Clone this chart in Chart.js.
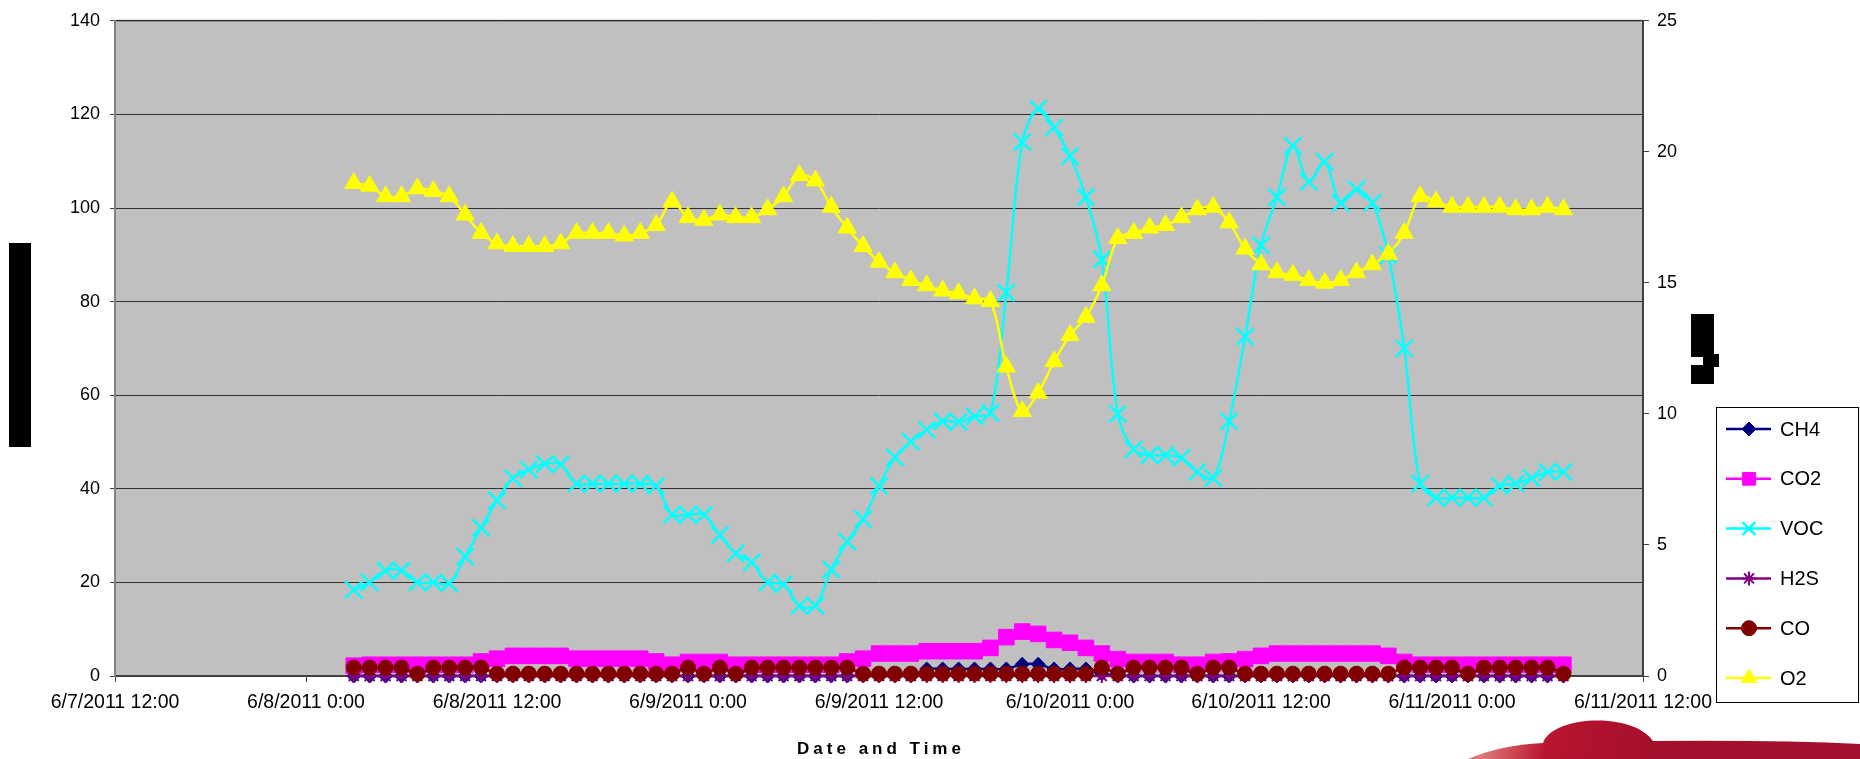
<!DOCTYPE html>
<html>
<head>
<meta charset="utf-8">
<title>Gas readings</title>
<script src="https://cdn.jsdelivr.net/npm/chart.js@4.4.1/dist/chart.umd.min.js"></script>
<style>
  html, body { margin: 0; padding: 0; background: #fff; }
  #wrap { width: 1860px; height: 759px; position: relative; }
</style>
</head>
<body>
<div id="wrap"><canvas id="gasChart" width="1860" height="759"></canvas></div>
<script>
// hours after 6/7/2011 12:00 for each reading
const sampleHours = [15,16,17,18,19,20,21,22,23,24,25,26,27,28,29,30,31,32,33,34,
  35,36,37,38,39,40,41,42,43,44,45,46,47,48,49,50,51,52,53,54,
  55,56,57,58,59,60,61,62,63,64,65,66,67,68,69,70,71,72,73,74,
  75,76,77,78,79,80,81,82,83,84,85,86,87,88,89,90,91];

const ch4 = [0,0,0,0,0,0,0,0,0,0, 0,0,0,0,0,0,0,0,0,0, 0,0,0,0,0,0,0,0,0,0,
  0,0,0,0,0,0,1.5,1.5,1.5,1.5, 1.5,1.5,2.5,2.5,1.5,1.5,1.5,0.5,0,0,
  0,0,0,0,0,0,0,0,0,0, 0,0,0,0,0,0,0,0,0,0, 0,0,0,0,0,0,0];

const co2 = [2.2,2.4,2.4,2.4,2.4,2.4,2.4,2.4,3.1,3.7, 4.3,4.3,4.3,4.3,3.7,3.7,3.7,3.7,3.7,3.1,
  2.4,3.0,3.0,3.0,2.4,2.4,2.4,2.4,2.4,2.4, 2.4,3.1,3.7,4.8,4.8,4.8,5.3,5.3,5.3,5.3,
  6.0,8.3,9.5,9.0,7.7,7.1,6.0,4.8,3.6,3.0, 3.0,3.0,2.4,2.4,3.0,3.1,3.6,4.3,4.8,4.8,
  4.8,4.8,4.8,4.8,4.8,4.3,3.0,2.4,2.4,2.4, 2.4,2.4,2.4,2.4,2.4,2.4,2.4];

const voc = [18.4,20.0,22.5,22.5,20.0,20.0,19.8,25.5,31.7,37.5, 42.3,44.1,45.3,45.2,41.1,41.1,41.1,41.1,41.1,40.6,
  34.5,34.5,34.5,30.1,26.2,24.3,20.0,19.6,15.0,15.0, 22.8,28.7,33.5,40.6,46.7,50.1,52.6,54.4,54.3,55.5,
  56.2,81.9,114.1,121.2,117.2,111.1,102.3,89.0,56.0,48.4, 47.2,47.2,46.6,43.6,42.3,54.4,72.5,92.0,102.3,113.3,
  105.6,109.9,101.1,104.0,101.1,89.9,70.0,41.1,38.1,38.1, 38.1,38.1,40.6,41.1,42.3,43.6,43.6];

const h2s = [0,0,0,0,0,0,0,0,0,0, 0,0,0,0,0,0,0,0,0,0, 0,0,0,0,0,0,0,0,0,0,
  0,0,0,0,0,0,0,0,0,0, 0,0,0,0,0,0,0,0,0,0, 0,0,0,0,0,0,0,0,0,0,
  0,0,0,0,0,0,0,0,0,0, 0,0,0,0,0,0,0];

const co = [1.8,1.8,1.8,1.8,0.5,1.8,1.8,1.8,1.8,0.5, 0.5,0.5,0.5,0.5,0.5,0.5,0.5,0.5,0.5,0.5,
  0.5,1.8,0.5,1.8,0.5,1.8,1.8,1.8,1.8,1.8, 1.8,1.8,0.5,0.5,0.5,0.5,0.5,0.5,0.5,0.5,
  0.5,0.5,0.5,0.5,0.5,0.5,0.5,1.8,0.5,1.8, 1.8,1.8,1.8,0.5,1.8,1.8,0.5,0.5,0.5,0.5,
  0.5,0.5,0.5,0.5,0.5,0.5,1.8,1.8,1.8,1.8, 0.5,1.8,1.8,1.8,1.8,1.8,0.5];

// O2 in percent, read against the right-hand axis
const o2 = [18.8,18.7,18.3,18.3,18.6,18.5,18.3,17.6,16.9,16.5, 16.4,16.4,16.4,16.5,16.9,16.9,16.9,16.8,16.9,17.2,
  18.1,17.5,17.4,17.6,17.5,17.5,17.8,18.3,19.1,18.9, 17.9,17.1,16.4,15.8,15.4,15.1,14.9,14.7,14.6,14.4,
  14.3,11.8,10.1,10.8,12.0,13.0,13.7,14.9,16.7,16.9, 17.1,17.2,17.5,17.8,17.9,17.3,16.3,15.7,15.4,15.3,
  15.1,15.0,15.1,15.4,15.7,16.1,16.9,18.3,18.1,17.9, 17.9,17.9,17.9,17.8,17.8,17.9,17.8];

const seriesNames = ["CH4", "CO2", "VOC", "H2S", "CO", "O2"];
const xTitle = "Date and Time";

const FONT = '"Liberation Sans", Arial, sans-serif';

function pairs(values) {
  return sampleHours.map((h, i) => ({ x: h, y: values[i] }));
}

function tickDate(h) {
  const day = 7 + Math.floor((12 + h) / 24);
  const hour = (12 + h) % 24;
  return "6/" + day + "/2011 " + hour + ":00";
}

function series(label, values, color, style, radius, extra) {
  return Object.assign({
    label,
    data: pairs(values),
    yAxisID: "y",
    borderColor: color,
    backgroundColor: color,
    borderWidth: 2.5,
    pointStyle: style,
    pointRadius: radius,
    pointBorderWidth: 1,
    pointBackgroundColor: color,
    pointBorderColor: color,
    tension: 0.33,
    clip: false
  }, extra || {});
}

const datasets = [
  series(seriesNames[0], ch4, "#000080", "rectRot", 7, { order: 6 }),
  series(seriesNames[1], co2, "#ff00ff", "rect", 11, { order: 5 }),
  series(seriesNames[2], voc, "#00ffff", "crossRot", 12, { order: 4, pointBorderWidth: 2.5 }),
  series(seriesNames[3], h2s, "#800080", "star", 7, { order: 3, pointBorderWidth: 2 }),
  series(seriesNames[4], co, "#800000", "circle", 7.5, { order: 2 }),
  series(seriesNames[5], o2, "#ffff00", "triangle", 10.5, { order: 1, yAxisID: "y1" })
];

// grey plot area plus its frame
const plotBackdrop = {
  id: "plotBackdrop",
  beforeDraw(chart) {
    const { ctx, chartArea: a } = chart;
    ctx.save();
    ctx.fillStyle = "#c0c0c0";
    ctx.fillRect(a.left, a.top, a.right - a.left, a.bottom - a.top);
    ctx.strokeStyle = "#808080";
    ctx.lineWidth = 2;
    ctx.strokeRect(a.left, a.top, a.right - a.left, a.bottom - a.top);
    ctx.restore();
  }
};

function markerFallback(ctx, style, r, x, y) {
  ctx.beginPath();
  if (style === "circle") ctx.arc(x, y, r, 0, Math.PI * 2);
  else if (style === "rect") ctx.rect(x - r * 0.707, y - r * 0.707, r * 1.414, r * 1.414);
  else if (style === "rectRot") { ctx.moveTo(x - r, y); ctx.lineTo(x, y - r); ctx.lineTo(x + r, y); ctx.lineTo(x, y + r); ctx.closePath(); }
  else if (style === "triangle") { ctx.moveTo(x, y - r); ctx.lineTo(x + r * 0.866, y + r / 2); ctx.lineTo(x - r * 0.866, y + r / 2); ctx.closePath(); }
  else { const d = r * 0.707; ctx.moveTo(x - d, y - d); ctx.lineTo(x + d, y + d); ctx.moveTo(x + d, y - d); ctx.lineTo(x - d, y + d); }
  if (style !== "crossRot" && style !== "star") ctx.fill();
  ctx.stroke();
}

// Excel-style legend: line sample with marker, boxed at the right
const boxLegend = {
  id: "boxLegend",
  afterDraw(chart) {
    const ctx = chart.ctx;
    const left = 1716, top = 407, right = 1858, bottom = 702;
    ctx.save();
    ctx.fillStyle = "#ffffff";
    ctx.fillRect(left, top, right - left, bottom - top);
    ctx.strokeStyle = "#000";
    ctx.lineWidth = 1;
    ctx.strokeRect(left + 0.5, top + 0.5, right - left, bottom - top);
    chart.data.datasets.forEach((ds, i) => {
      const y = 429 + i * 49.8;
      ctx.strokeStyle = ds.borderColor;
      ctx.lineWidth = 2.5;
      ctx.beginPath();
      ctx.moveTo(1726, y);
      ctx.lineTo(1771, y);
      ctx.stroke();
      ctx.fillStyle = ds.pointBackgroundColor;
      ctx.strokeStyle = ds.pointBorderColor;
      ctx.lineWidth = ds.pointBorderWidth;
      const opts = { pointStyle: ds.pointStyle, radius: Math.min(ds.pointRadius, 9), borderWidth: ds.pointBorderWidth, rotation: 0 };
      if (Chart.helpers && Chart.helpers.drawPoint) {
        Chart.helpers.drawPoint(ctx, opts, 1749, y);
      } else {
        markerFallback(ctx, ds.pointStyle, opts.radius, 1749, y);
      }
      ctx.fillStyle = "#000";
      ctx.font = "20px " + FONT;
      ctx.textAlign = "left";
      ctx.textBaseline = "middle";
      ctx.fillText(ds.label, 1780, y + 1);
    });
    ctx.restore();
  }
};

// spaced bold axis title, redacted axis titles and the logo corner
const decorations = {
  id: "decorations",
  afterDraw(chart) {
    const { ctx, chartArea: a } = chart;
    ctx.save();
    ctx.fillStyle = "#000";
    ctx.font = "bold 17px " + FONT;
    if ("letterSpacing" in ctx) ctx.letterSpacing = "4px";
    ctx.textAlign = "center";
    ctx.textBaseline = "middle";
    ctx.fillText(xTitle, (a.left + a.right) / 2 + 2, 749);
    if ("letterSpacing" in ctx) ctx.letterSpacing = "0px";

    ctx.fillRect(9, 243, 22, 204);
    ctx.fillRect(1691, 314, 23, 70);
    ctx.fillRect(1714, 354, 5, 13);
    ctx.fillStyle = "#fff";
    ctx.fillRect(1691, 357, 12, 8);

    const g = ctx.createLinearGradient(1490, 720, 1660, 759);
    g.addColorStop(0, "#e07a7a");
    g.addColorStop(0.35, "#b8142f");
    g.addColorStop(1, "#a30f2c");
    ctx.fillStyle = g;
    ctx.beginPath();
    ctx.moveTo(1468, 759);
    ctx.quadraticCurveTo(1500, 745, 1543, 743);
    ctx.bezierCurveTo(1553, 715, 1633, 712, 1653, 741);
    ctx.quadraticCurveTo(1780, 740, 1860, 744);
    ctx.lineTo(1860, 759);
    ctx.closePath();
    ctx.fill();
    ctx.restore();
  }
};

const tickFont = { family: FONT, size: 18 };

new Chart(document.getElementById("gasChart").getContext("2d"), {
  type: "line",
  data: { datasets },
  options: {
    responsive: false,
    animation: false,
    devicePixelRatio: 1,
    layout: { padding: { top: 18, left: 0, right: 0, bottom: 0 } },
    plugins: {
      legend: { display: false },
      tooltip: { enabled: false },
      title: { display: false }
    },
    scales: {
      x: {
        type: "linear",
        position: "bottom",
        min: 0,
        max: 96,
        afterFit: s => { s.height = 83; },
        ticks: {
          stepSize: 12,
          autoSkip: false,
          maxRotation: 0,
          padding: 9,
          color: "#000",
          font: { family: FONT, size: 19.5 },
          callback: v => tickDate(v)
        },
        grid: { drawOnChartArea: false, drawTicks: true, tickLength: 6, tickColor: "#404040" },
        border: { color: "#404040", width: 2 }
      },
      y: {
        position: "left",
        min: 0,
        max: 140,
        afterFit: s => { s.width = 115; },
        ticks: { stepSize: 20, padding: 10, color: "#000", font: tickFont },
        grid: { color: "#303030", lineWidth: 1, tickLength: 5, tickColor: "#404040" },
        border: { color: "#808080", width: 2 }
      },
      y1: {
        position: "right",
        min: 0,
        max: 25,
        afterFit: s => { s.width = 217; },
        ticks: { stepSize: 5, padding: 8, color: "#000", font: tickFont },
        grid: { drawOnChartArea: false, tickLength: 6, tickColor: "#404040" },
        border: { color: "#404040", width: 2 }
      }
    }
  },
  plugins: [plotBackdrop, boxLegend, decorations]
});
</script>
</body>
</html>
